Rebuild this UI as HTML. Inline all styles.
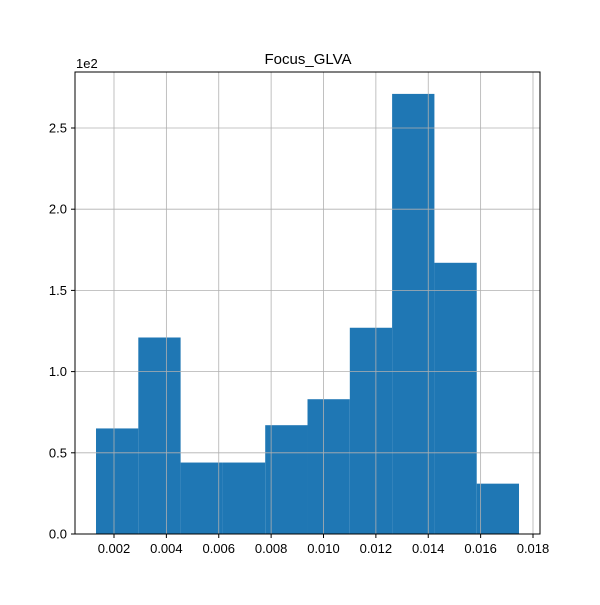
<!DOCTYPE html>
<html><head><meta charset="utf-8"><style>body{margin:0;background:#fff}svg{font-family:"Liberation Sans","DejaVu Sans",sans-serif}</style></head>
<body>
<svg id="chart" width="600" height="600">
<rect width="600" height="600" fill="#fff"/>
<g id="bars"></g><g id="grid"></g><g id="axes"></g>
<text x="308" y="64" text-anchor="middle" font-size="15">Focus_GLVA</text>
<text x="76" y="68" font-size="13">1e2</text>
</svg>
<script>
const binStart = 0.001313;
const binWidth = 0.0016153;
const counts = [65, 121, 44, 44, 67, 83, 127, 271, 167, 31];
const xTicks = [0.002, 0.004, 0.006, 0.008, 0.010, 0.012, 0.014, 0.016, 0.018];
const xTickLabels = ["0.002","0.004","0.006","0.008","0.010","0.012","0.014","0.016","0.018"];
const yTicks = [0, 50, 100, 150, 200, 250];
const yTickLabels = ["0.0","0.5","1.0","1.5","2.0","2.5"];
const L=75,R=540,T=72,B=534;
const x=v=>114+(v-0.002)*26187.5;
const y=v=>B-v*1.624;
const NS="http://www.w3.org/2000/svg";
function mk(tag,attrs,parent,text){const e=document.createElementNS(NS,tag);for(const k in attrs)e.setAttribute(k,attrs[k]);if(text!==undefined)e.textContent=text;document.getElementById(parent).appendChild(e);return e;}
counts.forEach((c,i)=>{
  const x0=x(binStart+i*binWidth),x1=x(binStart+(i+1)*binWidth);
  const r=mk('rect',{x:x0,y:y(c),width:x1-x0,height:B-y(c),fill:'#1f77b4'},'bars');
  
  
});
xTicks.forEach((t,i)=>{
  const gl=mk('line',{x1:x(t),x2:x(t),y1:T,y2:B,stroke:'#b0b0b0','stroke-width':0.8},'grid');
  
  
  mk('line',{x1:x(t),x2:x(t),y1:B,y2:B+4,stroke:'#000'},'axes');
  const tl=mk('text',{x:x(t),y:B+19,'text-anchor':'middle','font-size':13},'axes',xTickLabels[i]);
  
  
});
yTicks.forEach((t,i)=>{
  const gl=mk('line',{x1:L,x2:R,y1:y(t),y2:y(t),stroke:'#b0b0b0','stroke-width':0.8},'grid');
  
  
  mk('line',{x1:L-4,x2:L,y1:y(t),y2:y(t),stroke:'#000'},'axes');
  const tl=mk('text',{x:L-8,y:y(t)+4.5,'text-anchor':'end','font-size':13},'axes',yTickLabels[i]);
  
  
});
const fr=mk('rect',{x:L,y:T,width:R-L,height:B-T,fill:'none',stroke:'#000','stroke-width':1},'axes');


</script>
</body></html>
